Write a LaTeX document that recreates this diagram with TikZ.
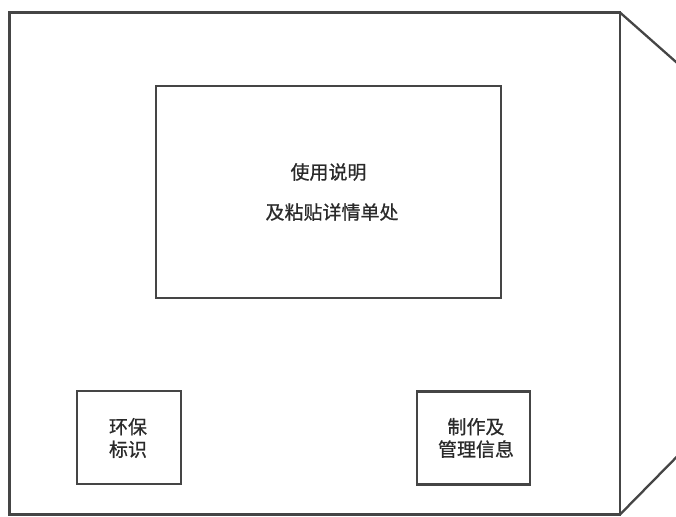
\documentclass[tikz,border=0pt]{standalone}
\usepackage{fontspec}
\newfontfamily\cjk[FakeBold=0.6]{Noto Sans CJK SC}
\definecolor{linec}{HTML}{454545}
\definecolor{textc}{HTML}{2A2A2A}
\begin{document}
\begin{tikzpicture}[x=1pt,y=-1pt,
  boxline/.style={draw=linec,line width=2.3pt},
  lbl/.style={font=\cjk\fontsize{19}{22.5}\selectfont,text=textc,align=center,inner sep=0pt}]
\fill[white] (0,0) rectangle (676,516);
\useasboundingbox (0,0) rectangle (676,516);
\begin{scope}
\clip (0,0) rectangle (676,516);
% outer panel
\draw[boxline] (9.5,12.5) rectangle (620,514.5);
% side flap
\coordinate (ftop) at (620,12.5);
\coordinate (fbot) at (620,514.5);
\coordinate (ftr) at (680,65.5);
\coordinate (fbr) at (680,453.5);
\draw[boxline] (ftop) -- (ftr);
\draw[boxline] (fbot) -- (fbr);
\end{scope}
% central box
\node[boxline,minimum width=345pt,minimum height=212pt,inner sep=0pt] (main) at (328.5,192) {};
\node[lbl] (mt1) at (328.5,172) {使用说明};
\node[lbl] (mt2) at (332,212) {及粘贴详情单处};
% left small box
\node[boxline,minimum width=104pt,minimum height=93pt,inner sep=0pt] (env) at (129,437.5) {};
\node[lbl] (envt) at (128,438) {环保\\标识};
% right small box
\node[boxline,minimum width=113pt,minimum height=93pt,inner sep=0pt] (mfg) at (473.5,438) {};
\node[lbl] (mfgt) at (476,438) {制作及\\管理信息};
\end{tikzpicture}
\end{document}
